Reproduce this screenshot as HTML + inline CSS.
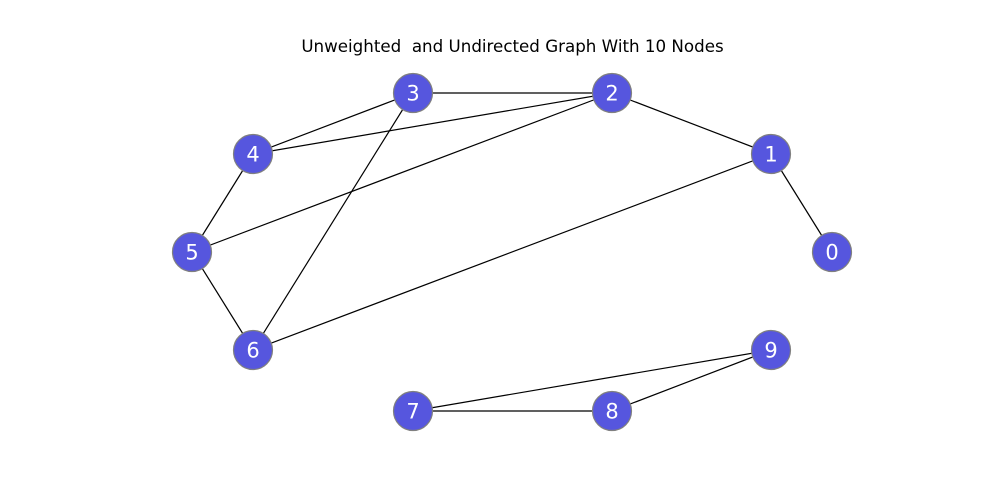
<!DOCTYPE html>
<html><head><style>html,body{margin:0;padding:0;background:#fff;width:1000px;height:500px;overflow:hidden}</style></head>
<body>
<svg width="1000" height="500" xmlns="http://www.w3.org/2000/svg">
<text x="512.5" y="52" text-anchor="middle" font-family="DejaVu Sans, sans-serif" font-size="16.7" fill="#000" style="white-space:pre" xml:space="preserve">Unweighted  and Undirected Graph With 10 Nodes</text>
<g stroke="#000" stroke-width="1.2">
<line x1="832" y1="252" x2="771" y2="154"/>
<line x1="771" y1="154" x2="612" y2="93"/>
<line x1="612" y1="93" x2="413" y2="93"/>
<line x1="413" y1="93" x2="253" y2="154"/>
<line x1="612" y1="93" x2="253" y2="154"/>
<line x1="612" y1="93" x2="192" y2="252"/>
<line x1="253" y1="154" x2="192" y2="252"/>
<line x1="192" y1="252" x2="253" y2="350"/>
<line x1="413" y1="93" x2="253" y2="350"/>
<line x1="771" y1="154" x2="253" y2="350"/>
<line x1="413" y1="411" x2="612" y2="411"/>
<line x1="413" y1="411" x2="771" y2="350"/>
<line x1="612" y1="411" x2="771" y2="350"/>
</g>
<g fill="#5656de" stroke="#808080" stroke-width="1.2">
<circle cx="832" cy="252" r="19.5"/><circle cx="771" cy="154" r="19.5"/><circle cx="612" cy="93" r="19.5"/>
<circle cx="413" cy="93" r="19.5"/><circle cx="253" cy="154" r="19.5"/><circle cx="192" cy="252" r="19.5"/>
<circle cx="253" cy="350" r="19.5"/><circle cx="413" cy="411" r="19.5"/><circle cx="612" cy="411" r="19.5"/>
<circle cx="771" cy="350" r="19.5"/>
</g>
<g fill="#fff" font-family="DejaVu Sans, sans-serif" font-size="21" text-anchor="middle">
<text x="832" y="259.5">0</text><text x="771" y="161.5">1</text><text x="612" y="100.5">2</text>
<text x="413" y="100.5">3</text><text x="253" y="161.5">4</text><text x="192" y="259.5">5</text>
<text x="253" y="357.5">6</text><text x="413" y="418.5">7</text><text x="612" y="418.5">8</text>
<text x="771" y="357.5">9</text>
</g>
</svg>
</body></html>
